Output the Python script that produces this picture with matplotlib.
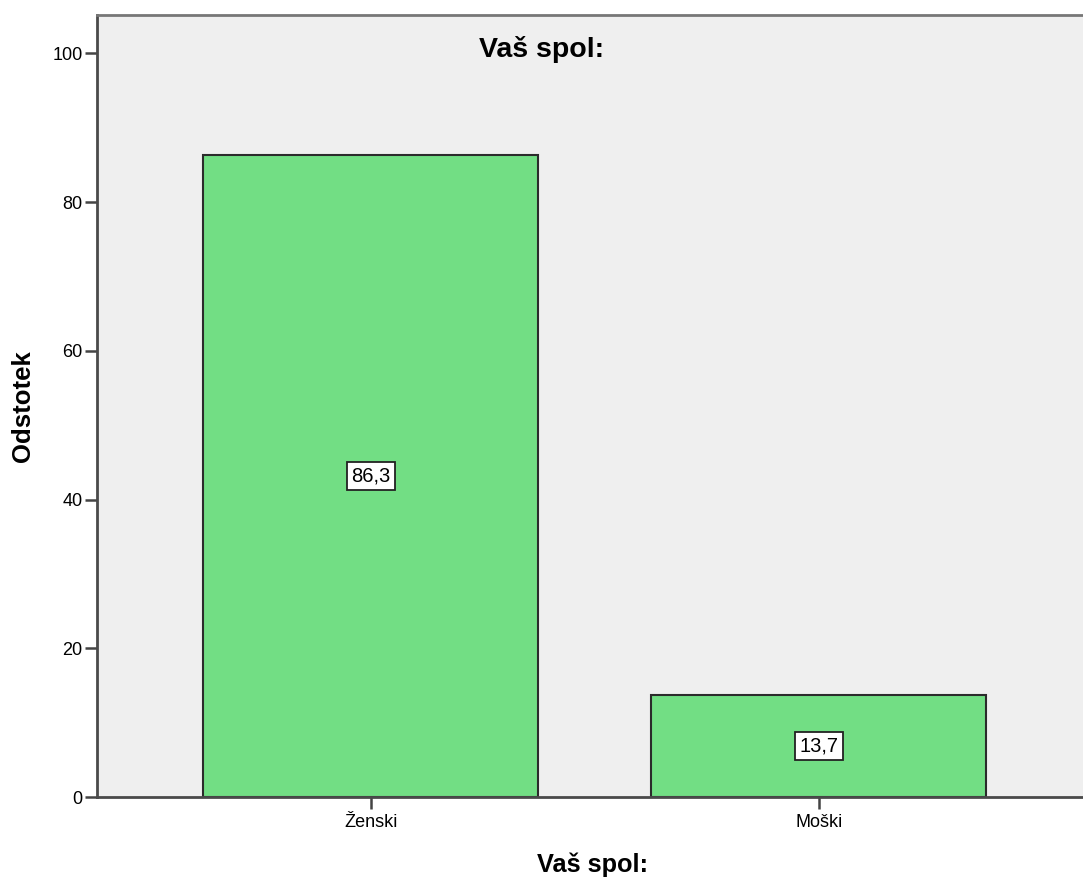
import matplotlib.pyplot as plt

# Datos del gráfico
categorias = ['Ženski', 'Moški']
odstotki = [86.3, 13.7]
oznake = ['86,3', '13,7']
y_ticks = [0, 20, 40, 60, 80, 100]

FONT = 'Liberation Sans'


def graficar_spol(categorias, odstotki):
    fig = plt.figure(figsize=(10.83, 8.8), dpi=100)
    ax = fig.add_axes([0.0898, 0.094, 0.9102, 0.8893])
    ax.set_facecolor('#efefef')

    x = list(range(len(categorias)))
    bars = ax.bar(x, odstotki, width=0.748, color='#72de84',
                  edgecolor='#2b2b2b', linewidth=1.5, zorder=2)

    # Oznake vrednosti v sredini stolpcev
    for bar, oznaka in zip(bars, oznake):
        ax.text(bar.get_x() + bar.get_width() / 2, bar.get_height() / 2, oznaka,
                ha='center', va='center', fontsize=14.5, family=FONT, zorder=3,
                bbox=dict(boxstyle='square,pad=0.22', facecolor='white',
                          edgecolor='#222222', linewidth=1.3))

    ax.set_xlim(-0.61, 1.59)
    ax.set_ylim(0, 105.2)
    ax.set_xticks(x)
    ax.set_xticklabels(categorias, family=FONT, fontsize=13)
    ax.set_yticks(y_ticks)
    ax.set_yticklabels([str(t) for t in y_ticks], family=FONT, fontsize=13)
    ax.tick_params(axis='both', direction='out', length=8.5, width=1.8,
                   color='#444444', pad=2)
    ax.tick_params(axis='x', pad=3.5)

    for lado in ['left', 'bottom', 'top']:
        ax.spines[lado].set_color('#4a4a4a')
        ax.spines[lado].set_linewidth(2)
    ax.spines['top'].set_color('#777777')
    ax.spines['right'].set_visible(False)

    # Naslov znotraj grafa
    ax.text(0.4507, 0.9463, 'Vaš spol:', transform=ax.transAxes, ha='center',
            va='baseline', fontsize=20.5, fontweight='bold', family=FONT)

    fig.text(0.5470, 0.0091, 'Vaš spol:', ha='center', va='baseline',
             fontsize=18.3, fontweight='bold', family=FONT)
    fig.text(0.0212, 0.539, 'Odstotek', ha='center', va='center', rotation=90,
             fontsize=18.5, fontweight='bold', family=FONT)

    fig.savefig('out.png', dpi=100)


if __name__ == '__main__':
    graficar_spol(categorias, odstotki)
